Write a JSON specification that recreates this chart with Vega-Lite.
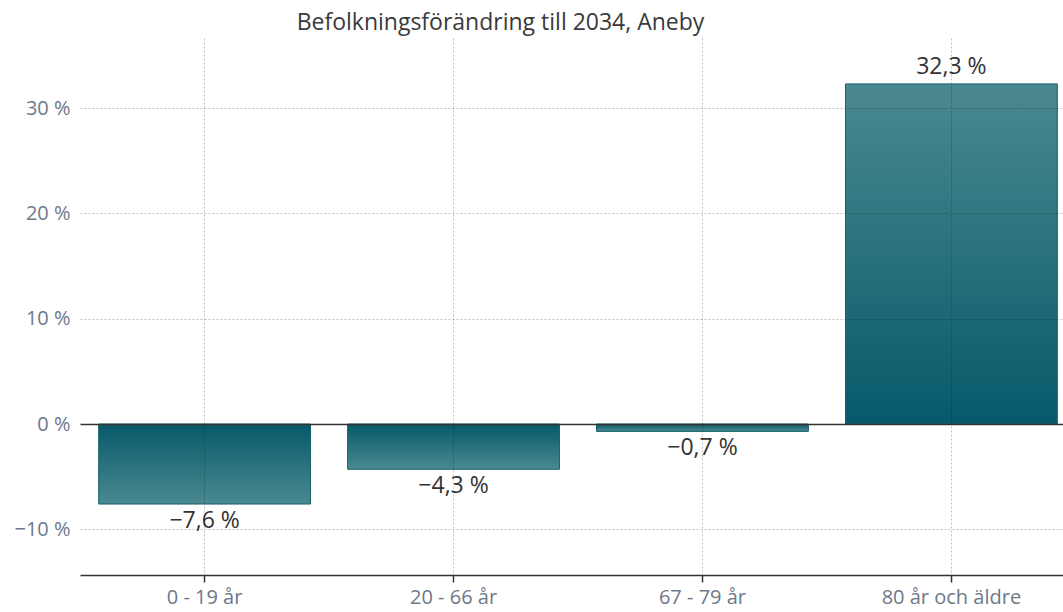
{
  "$schema": "https://vega.github.io/schema/vega-lite/v6.json",
  "autosize": {"type": "none"},
  "padding": {"left": 80, "top": 38, "right": 0, "bottom": 37},
  "width": 983,
  "height": 537,
  "title": {
    "text": "Befolkningsförändring till 2034, Aneby",
    "font": "Open Sans",
    "fontSize": 23,
    "fontWeight": "normal",
    "color": "#3a3a3a",
    "anchor": "middle",
    "dx": -71,
    "offset": 3
  },
  "data": {
    "values": [
      {"grupp": "0 - 19 år", "forandring": -7.6},
      {"grupp": "20 - 66 år", "forandring": -4.3},
      {"grupp": "67 - 79 år", "forandring": -0.7},
      {"grupp": "80 år och äldre", "forandring": 32.3}
    ]
  },
  "encoding": {
    "x": {
      "field": "grupp",
      "type": "nominal",
      "sort": ["0 - 19 år", "20 - 66 år", "67 - 79 år", "80 år och äldre"],
      "title": null,
      "scale": {"range": [0, 996], "paddingInner": 0.149, "paddingOuter": 0.075},
      "axis": {
        "zindex": 1,
        "labelAngle": 0,
        "labelFont": "Open Sans",
        "labelFontSize": 20,
        "labelColor": "#6e7889",
        "labelPadding": 5,
        "domainColor": "#333333",
        "domainWidth": 1.5,
        "tickColor": "#333333",
        "tickSize": 7,
        "tickWidth": 1.5,
        "grid": true,
        "gridDash": [2, 2],
        "gridColor": "#000000",
        "gridOpacity": 0.24
      }
    },
    "y": {
      "field": "forandring",
      "type": "quantitative",
      "title": null,
      "scale": {"domain": [-14.34, 36.66], "nice": false, "zero": false},
      "axis": {
        "zindex": 1,
        "values": [-10, 0, 10, 20, 30],
        "format": "$d",
        "labelFont": "Open Sans",
        "labelFontSize": 20,
        "labelColor": "#6e7889",
        "labelPadding": 10,
        "ticks": false,
        "domain": false,
        "grid": true,
        "gridDash": {"condition": {"test": "datum.value === 0", "value": []}, "value": [2, 2]},
        "gridColor": {"condition": {"test": "datum.value === 0", "value": "#333333"}, "value": "#000000"},
        "gridOpacity": {"condition": {"test": "datum.value === 0", "value": 1}, "value": 0.24},
        "gridWidth": {"condition": {"test": "datum.value === 0", "value": 1.5}, "value": 1}
      }
    }
  },
  "layer": [
    {
      "transform": [{"filter": "datum.forandring >= 0"}],
      "mark": {
        "type": "bar",
        "stroke": "#17606c",
        "strokeWidth": 1,
        "color": {
          "gradient": "linear",
          "x1": 0, "y1": 0, "x2": 0, "y2": 1,
          "stops": [
            {"offset": 0, "color": "#4b8990"},
            {"offset": 1, "color": "#06596a"}
          ]
        }
      }
    },
    {
      "transform": [{"filter": "datum.forandring < 0"}],
      "mark": {
        "type": "bar",
        "stroke": "#17606c",
        "strokeWidth": 1,
        "color": {
          "gradient": "linear",
          "x1": 0, "y1": 0, "x2": 0, "y2": 1,
          "stops": [
            {"offset": 0, "color": "#06596a"},
            {"offset": 1, "color": "#4b8990"}
          ]
        }
      }
    },
    {
      "transform": [{"filter": "datum.forandring >= 0"}],
      "mark": {"type": "text", "font": "Open Sans", "fontSize": 23, "color": "#333333", "baseline": "middle", "dy": -17},
      "encoding": {"text": {"field": "forandring", "type": "quantitative", "format": "$.1f"}}
    },
    {
      "transform": [{"filter": "datum.forandring < 0"}],
      "mark": {"type": "text", "font": "Open Sans", "fontSize": 23, "color": "#333333", "baseline": "middle", "dy": 17},
      "encoding": {"text": {"field": "forandring", "type": "quantitative", "format": "$.1f"}}
    }
  ],
  "config": {
    "view": {"stroke": null},
    "locale": {
      "number": {
        "decimal": ",",
        "thousands": " ",
        "grouping": [3],
        "currency": ["", " %"]
      }
    }
  }
}
